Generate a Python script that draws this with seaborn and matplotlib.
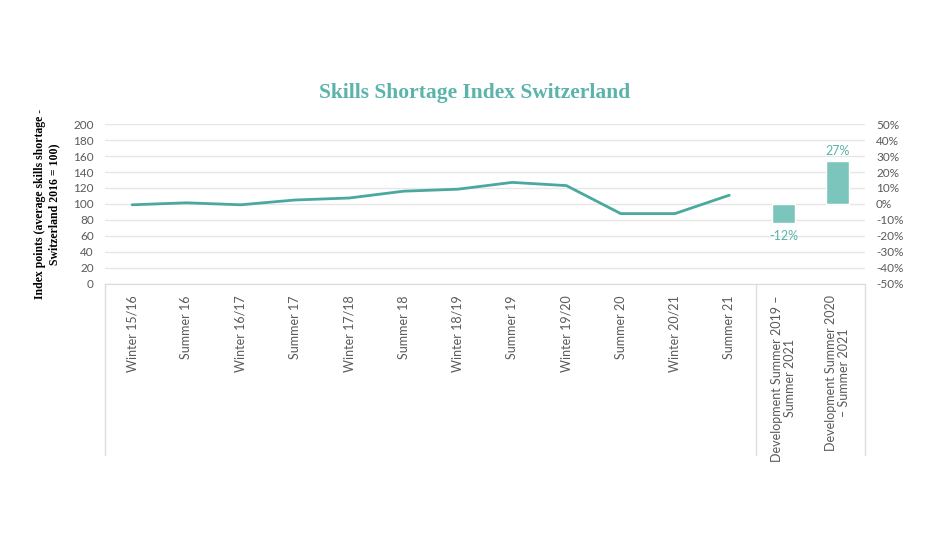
import numpy as np
import pandas as pd

import matplotlib.pyplot as plt
import seaborn as sns

# categories on the x axis
seasons = [
    "Winter 15/16", "Summer 16", "Winter 16/17", "Summer 17", "Winter 17/18",
    "Summer 18", "Winter 18/19", "Summer 19", "Winter 19/20", "Summer 20",
    "Winter 20/21", "Summer 21",
]
dev_labels = [
    "Development Summer 2019 –\nSummer 2021",
    "Development Summer 2020\n– Summer 2021",
]
index_values = [99, 101.5, 99, 105, 107.5, 116, 118.5, 127, 123, 88, 88, 111]
dev_changes = [-12, 27]

categories = seasons + dev_labels
left_ticks = list(range(0, 201, 20))
right_ticks = list(range(-50, 51, 10))

TEAL_LINE = "#4aa89f"
TEAL_BAR = "#7cc5bd"
TEAL_TEXT = "#5ab4ab"
GREY = "#5a5a5a"

sns.set_style("white")
plt.rcParams["font.family"] = ["Lato", "DejaVu Sans"]

fig = plt.figure(figsize=(9.5, 5.35), dpi=100)
ax = fig.add_axes([0.1105, 0.4692, 0.8, 0.299])
ax2 = ax.twinx()

line_df = pd.DataFrame({"pos": [categories.index(s) for s in seasons], "value": index_values})
sns.lineplot(x="pos", y="value", data=line_df, ax=ax, color=TEAL_LINE, linewidth=2)

bar_df = pd.DataFrame({"period": dev_labels, "change": dev_changes})
sns.barplot(x="period", y="change", data=bar_df, order=categories, ax=ax2,
            color=TEAL_BAR, width=0.42, saturation=1)

ax.set_xlim(-0.5, len(categories) - 0.5)
ax.set_ylim(0, 200)
ax2.set_ylim(-50, 50)
ax.set_yticks(left_ticks)
ax2.set_yticks(right_ticks)
ax2.set_yticklabels([f"{t}%" for t in right_ticks])
ax.set_xticks(range(len(categories)))
ax.set_xticklabels(categories, rotation=90, va="top", ha="center", fontsize=9,
                   color=GREY, linespacing=1.1)
ax.tick_params(axis="y", length=0, labelsize=8.5, labelcolor=GREY, pad=8)
ax2.tick_params(axis="y", length=0, labelsize=8.5, labelcolor=GREY, pad=8)
ax.tick_params(axis="x", length=0, pad=8)
ax.yaxis.grid(True, color="#e6e6e6", linewidth=1)
ax.set_axisbelow(True)
ax2.set_xlabel("")
ax2.set_ylabel("")
ax.set_xlabel("")

for a in (ax, ax2):
    for side in ("top", "left", "right"):
        a.spines[side].set_visible(False)
    a.spines["bottom"].set_color("#dddddd")

# box lines below the category axis
trans = ax.get_xaxis_transform()
for xv in (-0.5, len(seasons) - 0.5, len(categories) - 0.5):
    ax.plot([xv, xv], [0, -1.07], transform=trans, color="#dddddd",
            linewidth=1, clip_on=False)

# bar value labels
for lbl, val in zip(dev_labels, dev_changes):
    xpos = categories.index(lbl)
    off = 2.5 if val > 0 else -4
    ax2.text(xpos, val + off, f"{val}%", ha="center",
             va="bottom" if val > 0 else "top", color=TEAL_TEXT, fontsize=9)

ax.set_ylabel("Index points (average skills shortage -\nSwitzerland 2016 = 100)",
              family=["Liberation Serif", "DejaVu Serif"], fontweight="bold",
              fontsize=8.5, color="black", labelpad=9, linespacing=1.25)

fig.text(0.5, 0.826, "Skills Shortage Index Switzerland", ha="center", va="center",
         family=["Liberation Serif", "DejaVu Serif"], fontweight="bold",
         fontsize=15.5, color=TEAL_TEXT)

fig.savefig("out.png", dpi=100)
